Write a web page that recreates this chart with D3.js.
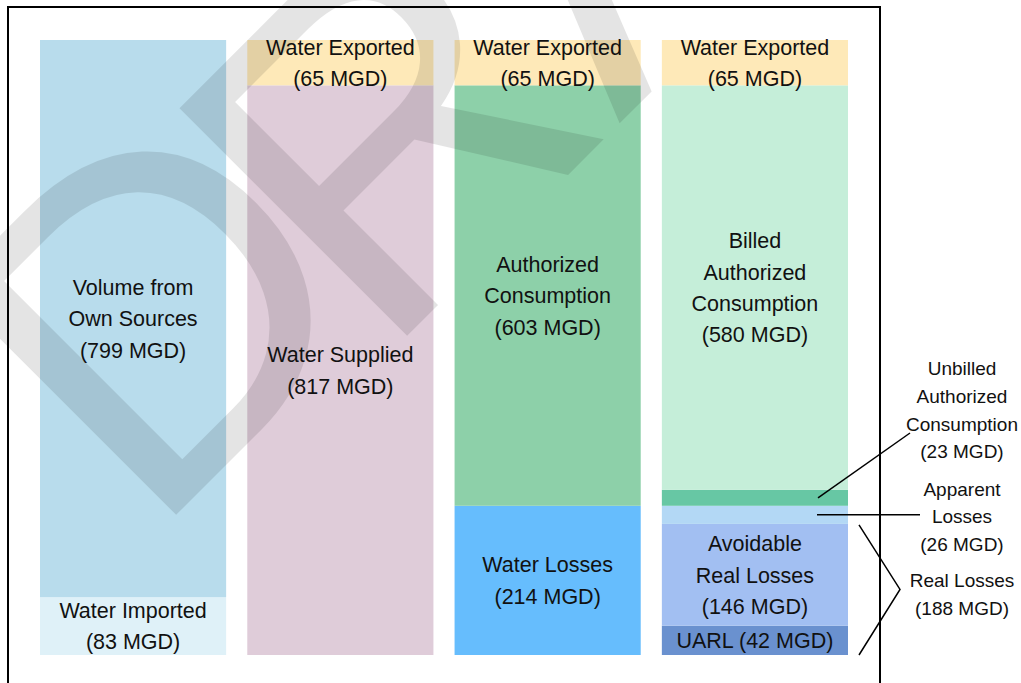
<!DOCTYPE html>
<html>
<head>
<meta charset="utf-8">
<script src="https://cdn.jsdelivr.net/npm/d3@7"></script>
<style>
  html, body { margin: 0; padding: 0; background: #fff; }
  svg { display: block; }
  text { font-family: "Liberation Sans", Arial, sans-serif; }
</style>
</head>
<body>
<svg id="chart" width="1021" height="683"></svg>
<script>
// ---- data ----
const columns = ["source", "supplied", "consumption", "detail"];

const sourceSegments = [
  { key: "imported", value: 83, label: ["Water Imported", "(83 MGD)"] },
  { key: "own", value: 799, label: ["Volume from", "Own Sources", "(799 MGD)"] }
];
const suppliedSegments = [
  { key: "supplied", value: 817, label: ["Water Supplied", "(817 MGD)"] },
  { key: "exported", value: 65, label: ["Water Exported", "(65 MGD)"] }
];
const consumptionSegments = [
  { key: "losses", value: 214, label: ["Water Losses", "(214 MGD)"] },
  { key: "authorized", value: 603, label: ["Authorized", "Consumption", "(603 MGD)"] },
  { key: "exported", value: 65, label: ["Water Exported", "(65 MGD)"] }
];
const detailSegments = [
  { key: "uarl", value: 42, label: ["UARL (42 MGD)"] },
  { key: "avoidable", value: 146, label: ["Avoidable", "Real Losses", "(146 MGD)"] },
  { key: "apparent", value: 26, label: [] },
  { key: "unbilled", value: 23, label: [] },
  { key: "billed", value: 580, label: ["Billed", "Authorized", "Consumption", "(580 MGD)"] },
  { key: "exported", value: 65, label: ["Water Exported", "(65 MGD)"] }
];

const calloutUnbilled = ["Unbilled", "Authorized", "Consumption", "(23 MGD)"];
const calloutApparent = ["Apparent", "Losses", "(26 MGD)"];
const calloutReal = ["Real Losses", "(188 MGD)"];
const realLossesTotal = 188;

const watermarkParts = ["D", "RAFT"];

const colors = {
  own: "#b8dcec",
  imported: "#dff1f8",
  exported: "#fee9b8",
  supplied: "#dfccd9",
  authorized: "#8dd0a9",
  losses: "#66bdfd",
  billed: "#c5eed9",
  unbilled: "#67c7a4",
  apparent: "#b3d8f5",
  avoidable: "#a2bff2",
  uarl: "#6a91cf"
};

// ---- layout ----
const svg = d3.select("#chart");
const total = d3.sum(sourceSegments, d => d.value);

const x = d3.scaleBand().domain(columns).range([40, 848]).paddingInner(0.102).paddingOuter(0);
const y = d3.scaleLinear().domain([0, total]).range([655, 40]);

function stack(segs) {
  let acc = 0;
  return segs.map(s => { const o = Object.assign({}, s, { y0: acc, y1: acc + s.value }); acc += s.value; return o; });
}

const allCols = [
  { col: "source", segs: stack(sourceSegments) },
  { col: "supplied", segs: stack(suppliedSegments) },
  { col: "consumption", segs: stack(consumptionSegments) },
  { col: "detail", segs: stack(detailSegments) }
];

const lineH = 31.3;
const bars = svg.append("g");
allCols.forEach(c => {
  const g = bars.append("g");
  g.selectAll("rect").data(c.segs).join("rect")
    .attr("x", x(c.col))
    .attr("width", x.bandwidth())
    .attr("y", d => y(d.y1))
    .attr("height", d => y(d.y0) - y(d.y1))
    .attr("fill", d => colors[d.key]);
});

// watermark (rotated, translucent)
const wm = svg.append("g").attr("opacity", 0.1);
const wmAnchors = [[149, 542], [380, 363]];
watermarkParts.forEach((p, i) => {
  wm.append("text")
    .attr("transform", `translate(${wmAnchors[i][0]},${wmAnchors[i][1]}) rotate(-45)`)
    .attr("font-size", 468)
    .attr("fill", "#000")
    .text(p);
});

// segment labels
allCols.forEach(c => {
  c.segs.forEach(d => {
    if (!d.label.length) return;
    const cx = x(c.col) + x.bandwidth() / 2;
    const cy = (y(d.y0) + y(d.y1)) / 2;
    const n = d.label.length;
    const t = svg.append("text")
      .attr("text-anchor", "middle")
      .attr("font-size", 21.5)
      .attr("fill", "#111");
    d.label.forEach((ln, i) => {
      t.append("tspan")
        .attr("x", cx)
        .attr("y", cy + (i - (n - 1) / 2) * lineH)
        .attr("dy", "0.36em")
        .text(ln);
    });
  });
});

// frame
svg.append("rect")
  .attr("x", 8).attr("y", 7).attr("width", 872).attr("height", 720)
  .attr("fill", "none").attr("stroke", "#000").attr("stroke-width", 2);

// callouts
const det = allCols[3].segs;
const segOf = k => det.find(s => s.key === k);
const colRight = x("detail") + x.bandwidth();
const calloutX = 962;
const calloutH = 27.7;

function calloutText(lines, cy) {
  const n = lines.length;
  const t = svg.append("text")
    .attr("text-anchor", "middle")
    .attr("font-size", 19)
    .attr("fill", "#111");
  lines.forEach((ln, i) => {
    t.append("tspan").attr("x", calloutX)
      .attr("y", cy + (i - (n - 1) / 2) * calloutH)
      .attr("dy", "0.36em").text(ln);
  });
}

const ub = segOf("unbilled");
const ubY = (y(ub.y0) + y(ub.y1)) / 2;
svg.append("line").attr("x1", colRight - 30).attr("y1", ubY)
  .attr("x2", 910).attr("y2", 433).attr("stroke", "#000").attr("stroke-width", 1.5);
calloutText(calloutUnbilled, 410);

const ap = segOf("apparent");
const apY = (y(ap.y0) + y(ap.y1)) / 2;
svg.append("line").attr("x1", colRight - 31).attr("y1", apY)
  .attr("x2", 920).attr("y2", apY).attr("stroke", "#000").attr("stroke-width", 1.5);
calloutText(calloutApparent, 516.5);

const rTop = y(realLossesTotal), rBot = y(0);
svg.append("path")
  .attr("d", `M${colRight + 11},${rTop + 1} L${colRight + 52},${(rTop + rBot) / 2} L${colRight + 11},${rBot}`)
  .attr("fill", "none").attr("stroke", "#000").attr("stroke-width", 1.5);
calloutText(calloutReal, 594);
</script>
</body>
</html>
